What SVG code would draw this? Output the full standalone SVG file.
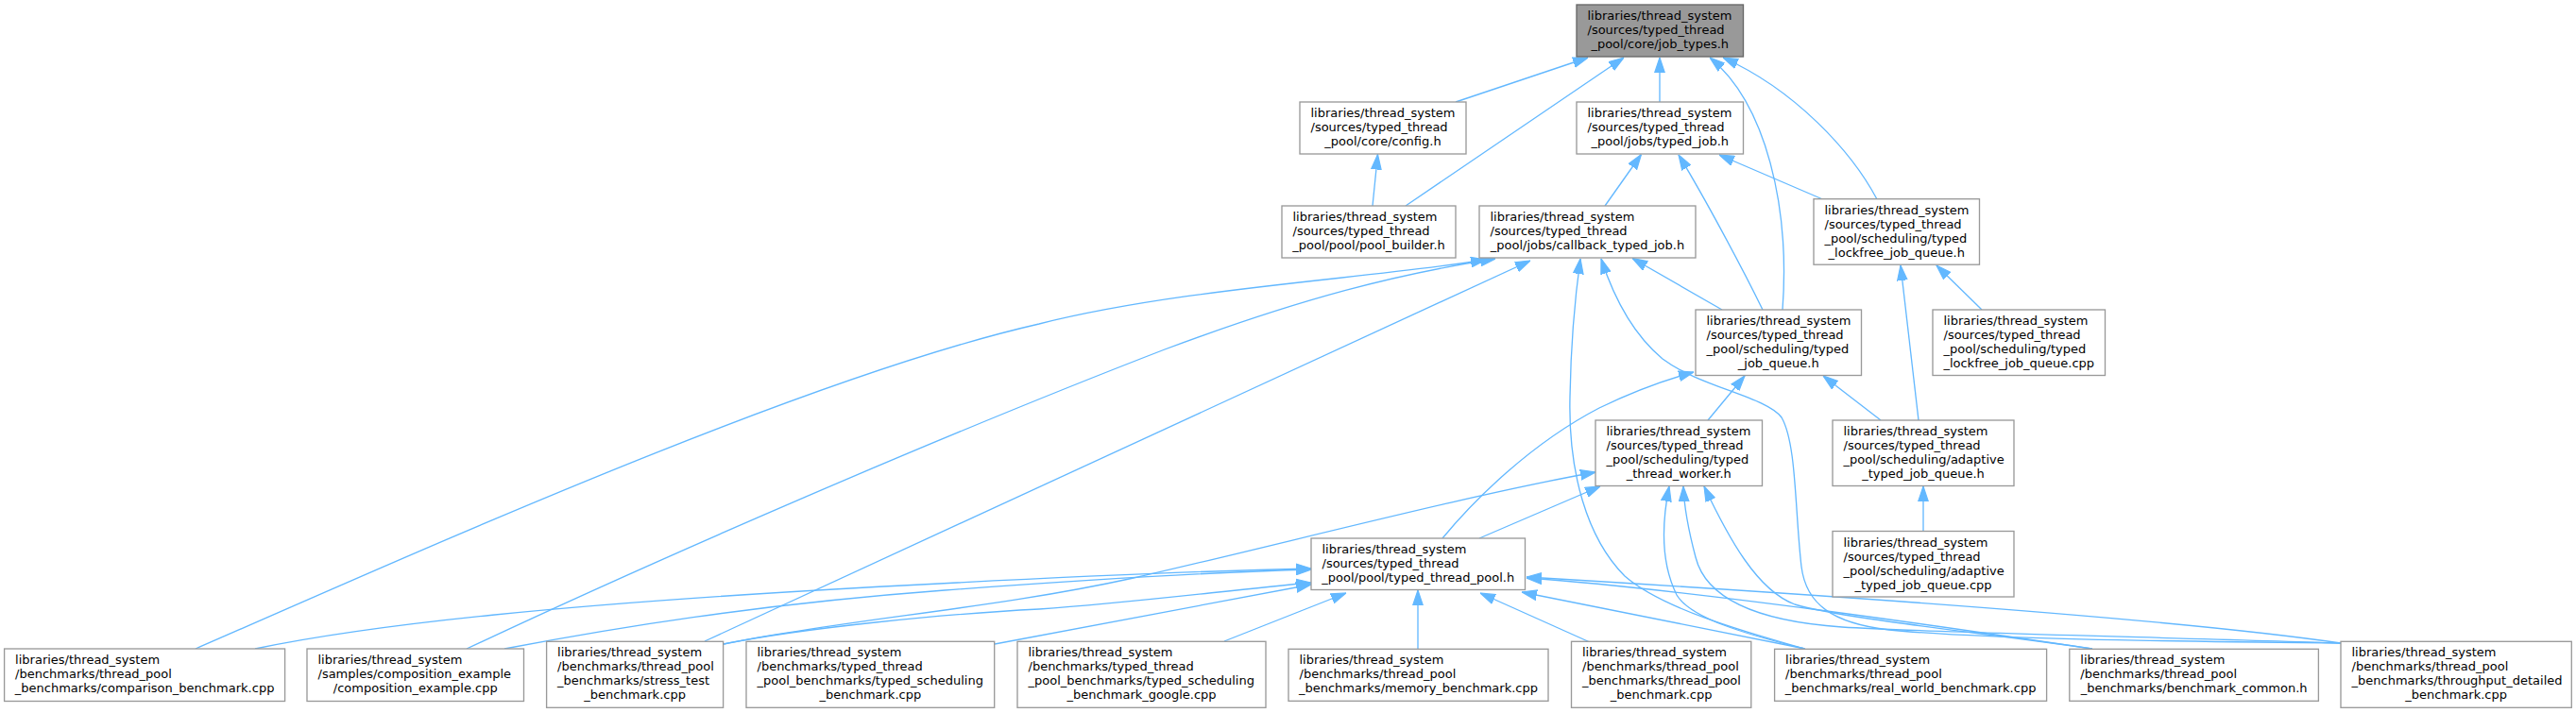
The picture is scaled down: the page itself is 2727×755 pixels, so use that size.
<svg xmlns="http://www.w3.org/2000/svg" width="2727" height="755" viewBox="0 0 2727 755">
<style>
.n rect{fill:#fff;stroke:#999;stroke-width:1.33}
.root rect{fill:#999;stroke:#666;stroke-width:1.33}
text{font-family:"DejaVu Sans","Liberation Sans",sans-serif;font-size:13px;fill:#000}
.c{text-anchor:middle}
#edges path{fill:none;stroke:#63b8ff;stroke-width:1.33;marker-end:url(#arr)}
</style>
<defs>
<marker id="arr" markerUnits="userSpaceOnUse" markerWidth="16" markerHeight="12" refX="13.5" refY="4.5" orient="auto" viewBox="0 0 13.5 9">
<path d="M0,0 L13.5,4.5 L0,9 z" fill="#63b8ff" stroke="#63b8ff" stroke-width="1"/>
</marker>
</defs>
<rect width="2727" height="755" fill="#fff"/>
<g id="edges">
<path d="M1541,108 L1681,61"/>
<path d="M1488,218 L1719,61"/>
<path d="M1757,108 L1757,61"/>
<path d="M1887,328 C1895,220 1870,110 1810,61"/>
<path d="M1987,211 C1960,160 1900,95 1824,61"/>
<path d="M1453,218 L1458.5,163.5"/>
<path d="M1699,218 L1737.5,163.5"/>
<path d="M1866,328 C1845,285 1805,210 1777,164"/>
<path d="M1929.5,211 L1820,164"/>
<path d="M1823,328 L1728,273.5"/>
<path d="M1910,687 C1850,670 1760,645 1720,610 C1680,570 1660,500 1662,420 C1663,360 1668,310 1673,274"/>
<path d="M2478,681 C2300,679 2100,677 2000,667 C1940,660 1912,640 1907,600 C1900,540 1902,470 1886,442 C1870,420 1800,410 1760,380 C1730,355 1710,320 1695,274"/>
<path d="M207,687 C430,590 850,400 1100,343 C1250,305 1450,295 1573,275"/>
<path d="M494,687 C700,590 1000,460 1233,370 C1380,315 1480,290 1583,274"/>
<path d="M746,679 L1620,276"/>
<path d="M270,687 C400,660 600,640 900,623 C1100,612 1250,605 1388,602"/>
<path d="M534,687 C650,665 800,640 1000,625 C1150,614 1280,606 1388,603"/>
<path d="M766,682 C850,665 1000,650 1100,645 C1200,638 1300,625 1388,617"/>
<path d="M766,682 C900,655 1050,645 1200,612 C1350,578 1550,525 1689,500"/>
<path d="M1053,682 L1388,619"/>
<path d="M1296,679 L1425,628"/>
<path d="M1501,687 L1501,625"/>
<path d="M1683,680 L1567,628"/>
<path d="M1911,687 L1611,627"/>
<path d="M2215,687 C2100,670 1800,625 1616,612"/>
<path d="M2478,681 C2300,655 1900,628 1616,611"/>
<path d="M1910,687 C1850,672 1790,655 1775,630 C1760,600 1758,560 1767,515"/>
<path d="M2215,687 C2100,670 1950,655 1900,640 C1860,625 1830,570 1804,515"/>
<path d="M2478,681 C2300,675 2050,670 1950,664 C1850,657 1805,630 1795,590 C1787,560 1783,540 1782,515"/>
<path d="M1566,570 L1694,515"/>
<path d="M1527,570 C1560,530 1620,470 1693,432 C1730,414 1760,403 1793,394"/>
<path d="M1808,445 L1847,398"/>
<path d="M1991,445 L1930,398"/>
<path d="M2036,563 L2036,515"/>
<path d="M2031,445 L2012,281"/>
<path d="M2098,328 L2050,281"/>
</g>
<g id="n1" class="root"><rect x="1669" y="5" width="176.5" height="55"/><text x="1680.5" y="21">libraries/thread_system</text><text x="1680.5" y="36">/sources/typed_thread</text><text class="c" x="1757.25" y="51">_pool/core/job_types.h</text></g>
<g id="n2" class="n"><rect x="1376" y="108" width="176" height="55"/><text x="1387.5" y="124">libraries/thread_system</text><text x="1387.5" y="139">/sources/typed_thread</text><text class="c" x="1464" y="154">_pool/core/config.h</text></g>
<g id="n3" class="n"><rect x="1669" y="108" width="176.5" height="55"/><text x="1680.5" y="124">libraries/thread_system</text><text x="1680.5" y="139">/sources/typed_thread</text><text class="c" x="1757.25" y="154">_pool/jobs/typed_job.h</text></g>
<g id="n4" class="n"><rect x="1357" y="218" width="184" height="55"/><text x="1368.5" y="234">libraries/thread_system</text><text x="1368.5" y="249">/sources/typed_thread</text><text class="c" x="1449" y="264">_pool/pool/pool_builder.h</text></g>
<g id="n5" class="n"><rect x="1566" y="218" width="229" height="55"/><text x="1577.5" y="234">libraries/thread_system</text><text x="1577.5" y="249">/sources/typed_thread</text><text class="c" x="1680.5" y="264">_pool/jobs/callback_typed_job.h</text></g>
<g id="n6" class="n"><rect x="1920" y="210.7" width="175.5" height="69.5"/><text x="1931.5" y="226.7">libraries/thread_system</text><text x="1931.5" y="241.7">/sources/typed_thread</text><text x="1931.5" y="256.7">_pool/scheduling/typed</text><text class="c" x="2007.75" y="271.7">_lockfree_job_queue.h</text></g>
<g id="n7" class="n"><rect x="1795" y="328" width="175.5" height="69.5"/><text x="1806.5" y="344">libraries/thread_system</text><text x="1806.5" y="359">/sources/typed_thread</text><text x="1806.5" y="374">_pool/scheduling/typed</text><text class="c" x="1882.75" y="389">_job_queue.h</text></g>
<g id="n8" class="n"><rect x="2046" y="328" width="182.5" height="69.5"/><text x="2057.5" y="344">libraries/thread_system</text><text x="2057.5" y="359">/sources/typed_thread</text><text x="2057.5" y="374">_pool/scheduling/typed</text><text class="c" x="2137.25" y="389">_lockfree_job_queue.cpp</text></g>
<g id="n9" class="n"><rect x="1689" y="445" width="176.5" height="69.5"/><text x="1700.5" y="461">libraries/thread_system</text><text x="1700.5" y="476">/sources/typed_thread</text><text x="1700.5" y="491">_pool/scheduling/typed</text><text class="c" x="1777.25" y="506">_thread_worker.h</text></g>
<g id="n10" class="n"><rect x="1940" y="445" width="192" height="69.5"/><text x="1951.5" y="461">libraries/thread_system</text><text x="1951.5" y="476">/sources/typed_thread</text><text x="1951.5" y="491">_pool/scheduling/adaptive</text><text class="c" x="2036" y="506">_typed_job_queue.h</text></g>
<g id="n11" class="n"><rect x="1940" y="562.5" width="192" height="69.5"/><text x="1951.5" y="578.5">libraries/thread_system</text><text x="1951.5" y="593.5">/sources/typed_thread</text><text x="1951.5" y="608.5">_pool/scheduling/adaptive</text><text class="c" x="2036" y="623.5">_typed_job_queue.cpp</text></g>
<g id="n12" class="n"><rect x="1388" y="570" width="226.5" height="54.5"/><text x="1399.5" y="586">libraries/thread_system</text><text x="1399.5" y="601">/sources/typed_thread</text><text class="c" x="1501.25" y="616">_pool/pool/typed_thread_pool.h</text></g>
<g id="n13" class="n"><rect x="4.6" y="687" width="297" height="55.5"/><text x="16.1" y="703">libraries/thread_system</text><text x="16.1" y="718">/benchmarks/thread_pool</text><text class="c" x="153.1" y="733">_benchmarks/comparison_benchmark.cpp</text></g>
<g id="n14" class="n"><rect x="325" y="687" width="229.5" height="55.5"/><text x="336.5" y="703">libraries/thread_system</text><text x="336.5" y="718">/samples/composition_example</text><text class="c" x="439.75" y="733">/composition_example.cpp</text></g>
<g id="n15" class="n"><rect x="578.6" y="679.3" width="187" height="70"/><text x="590.1" y="695.3">libraries/thread_system</text><text x="590.1" y="710.3">/benchmarks/thread_pool</text><text x="590.1" y="725.3">_benchmarks/stress_test</text><text class="c" x="672.1" y="740.3">_benchmark.cpp</text></g>
<g id="n16" class="n"><rect x="790" y="679.3" width="262.7" height="70"/><text x="801.5" y="695.3">libraries/thread_system</text><text x="801.5" y="710.3">/benchmarks/typed_thread</text><text x="801.5" y="725.3">_pool_benchmarks/typed_scheduling</text><text class="c" x="921.35" y="740.3">_benchmark.cpp</text></g>
<g id="n17" class="n"><rect x="1077" y="679.3" width="263" height="70"/><text x="1088.5" y="695.3">libraries/thread_system</text><text x="1088.5" y="710.3">/benchmarks/typed_thread</text><text x="1088.5" y="725.3">_pool_benchmarks/typed_scheduling</text><text class="c" x="1208.5" y="740.3">_benchmark_google.cpp</text></g>
<g id="n18" class="n"><rect x="1364" y="687.3" width="275" height="55"/><text x="1375.5" y="703.3">libraries/thread_system</text><text x="1375.5" y="718.3">/benchmarks/thread_pool</text><text class="c" x="1501.5" y="733.3">_benchmarks/memory_benchmark.cpp</text></g>
<g id="n19" class="n"><rect x="1663.5" y="679.3" width="190.3" height="70"/><text x="1675" y="695.3">libraries/thread_system</text><text x="1675" y="710.3">/benchmarks/thread_pool</text><text x="1675" y="725.3">_benchmarks/thread_pool</text><text class="c" x="1758.65" y="740.3">_benchmark.cpp</text></g>
<g id="n20" class="n"><rect x="1878.6" y="687.3" width="288" height="55"/><text x="1890.1" y="703.3">libraries/thread_system</text><text x="1890.1" y="718.3">/benchmarks/thread_pool</text><text class="c" x="2022.6" y="733.3">_benchmarks/real_world_benchmark.cpp</text></g>
<g id="n21" class="n"><rect x="2190.8" y="687.3" width="263.6" height="55"/><text x="2202.3" y="703.3">libraries/thread_system</text><text x="2202.3" y="718.3">/benchmarks/thread_pool</text><text class="c" x="2322.6" y="733.3">_benchmarks/benchmark_common.h</text></g>
<g id="n22" class="n"><rect x="2478" y="679.3" width="244.3" height="70"/><text x="2489.5" y="695.3">libraries/thread_system</text><text x="2489.5" y="710.3">/benchmarks/thread_pool</text><text x="2489.5" y="725.3">_benchmarks/throughput_detailed</text><text class="c" x="2600.15" y="740.3">_benchmark.cpp</text></g>
</svg>
